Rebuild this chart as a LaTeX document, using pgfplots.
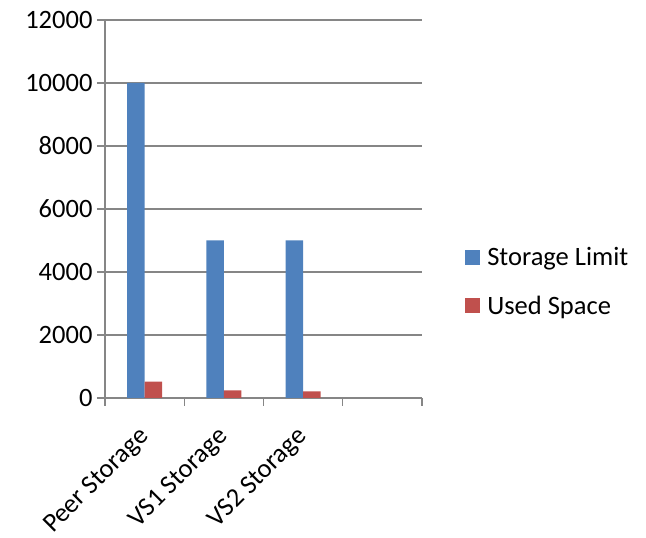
\documentclass[border=0pt]{standalone}
\usepackage{pgfplots}
\pgfplotsset{compat=1.18}
\usepackage{fontspec}
\setmainfont{Carlito}
\definecolor{limitblue}{RGB}{79,129,189}
\definecolor{usedred}{RGB}{192,80,77}
\definecolor{gridgray}{RGB}{134,134,134}

\begin{document}
\begin{tikzpicture}[x=1pt,y=1pt]
\useasboundingbox (0,0) rectangle (646,538);
\begin{axis}[
  at={(105pt,140pt)}, anchor=south west,
  scale only axis,
  width=317pt, height=378pt,
  xmin=0, xmax=4,
  ymin=0, ymax=12000,
  ytick={0,2000,...,12000},
  scaled y ticks=false,
  xtick={0.5,1.5,2.5},
  xticklabels={Peer Storage,VS1 Storage,VS2 Storage},
  minor xtick={0,1,2,3,4},
  major tick length=0pt,
  minor tick length=8pt,
  tick align=outside,
  axis x line*=bottom,
  axis y line*=left,
  axis line style={gridgray, line width=1.4pt, -},
  every tick/.style={gridgray, line width=1.4pt},
  ymajorgrids,
  major grid style={gridgray, line width=1.4pt},
  extra y ticks={0,2000,...,12000},
  extra y tick labels={},
  extra y tick style={major tick length=8pt, grid=none},
  /pgf/number format/1000 sep={},
  /pgf/number format/assume math mode=true,
  ticklabel style={font=\fontsize{26.5}{31}\selectfont, text=black},
  yticklabel style={anchor=east, xshift=-9pt},
  xticklabel style={rotate=45, anchor=east, xshift=-21pt, yshift=-25pt},
  ybar,
  bar width=17.5pt,
  legend style={
    at={(1.136,0.308)}, anchor=west,
    draw=none, fill=none,
    font=\fontsize{26.5}{31}\selectfont,
    row sep=29pt,
    inner sep=0pt,
    nodes={inner sep=0pt, inner xsep=7pt},
  },
  legend cell align=left,
  legend image code/.code={\fill[#1] (0pt,-7.5pt) rectangle (15pt,7.5pt);},
]
\addplot[fill=limitblue, draw=none, bar shift=-8.75pt]
  coordinates {(0.5,10000) (1.5,5000) (2.5,5000)};
\addplot[fill=usedred, draw=none, bar shift=8.75pt]
  coordinates {(0.5,520) (1.5,240) (2.5,210)};
\legend{Storage Limit, Used Space}
\end{axis}
\end{tikzpicture}
\end{document}
